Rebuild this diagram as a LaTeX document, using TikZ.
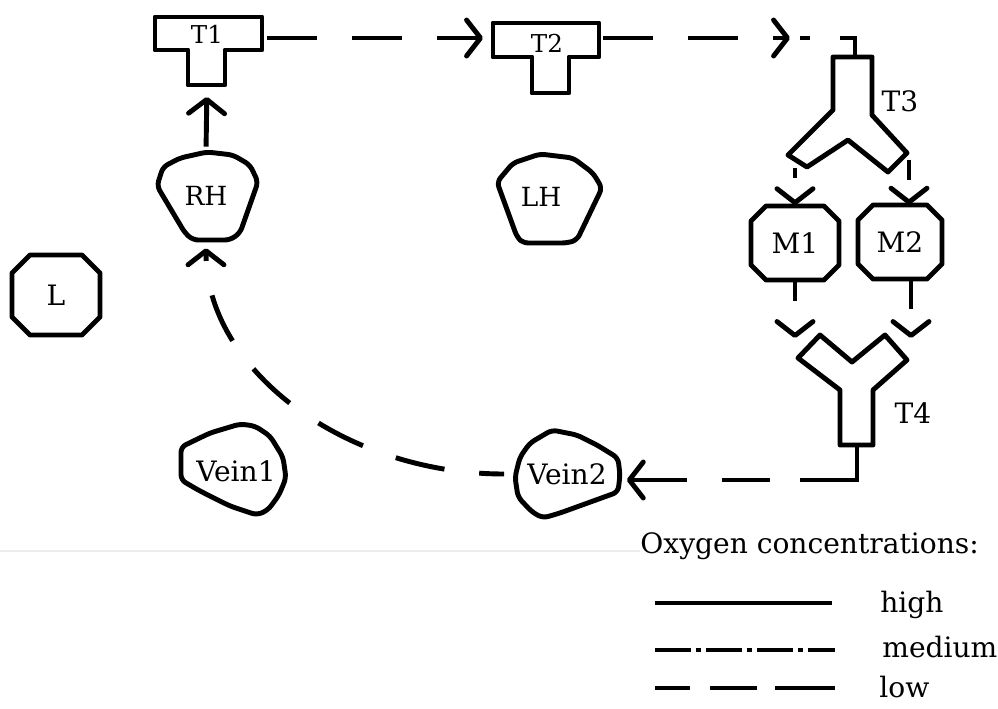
\documentclass[tikz,border=0pt]{standalone}
\usepackage{fontspec}
\setmainfont{DejaVu Serif}
\usetikzlibrary{calc,arrows.meta}
\def\octagon(#1)(#2:#3:#4){\draw[shape line] ($(#1)+(-#2,-#3+#4)$) -- ($(#1)+(-#2,#3-#4)$) -- ($(#1)+(-#2+#4,#3)$) -- ($(#1)+(#2-#4,#3)$) -- ($(#1)+(#2,#3-#4)$) -- ($(#1)+(#2,-#3+#4)$) -- ($(#1)+(#2-#4,-#3)$) -- ($(#1)+(-#2+#4,-#3)$) -- cycle;}
\tikzset{
	shape line/.style={line width=2.8pt, line join=round},
	lbl/.style={font=\fontsize{16}{19}\selectfont, inner sep=0pt},
	mid lbl/.style={font=\fontsize{15}{18}\selectfont, inner sep=0pt},
	small lbl/.style={font=\fontsize{14}{17}\selectfont, inner sep=0pt},
	high/.style={line width=2.8pt},
	medium/.style={line width=2.8pt, dash pattern=on 0.72cm off 0.1cm on 0.1cm off 0.1cm},
	low/.style={line width=2.8pt, dash pattern=on 1cm off 0.7cm},
	flow/.style={-{Straight Barb[length=0.28cm,width=0.72cm,round]}}
}

\begin{document}
\begin{tikzpicture}[x=0.02cm, y=-0.02cm]
	%%%%% START %%%%%
	\useasboundingbox (0,0) rectangle (998,708);
	
	\draw[shape line] (155,17) -- (262,17) -- (262,50) -- (225,50) -- (225,85) -- (188,85) -- (188,50) -- (155,50) -- cycle;
	\node[small lbl] (T1) at (207,34) {T1};
	\coordinate (T1 in) at (207,85);
	\coordinate (T1 out) at (262,38);
	
	\draw[shape line] (493,23) -- (599,23) -- (599,57) -- (569,57) -- (569,93) -- (532,93) -- (532,57) -- (493,57) -- cycle;
	\node[small lbl] (T2) at (547,43) {T2};
	\coordinate (T2 in) at (493,38);
	\coordinate (T2 out) at (599,38);
	
	\draw[shape line] (833,57) -- (872,57) -- (872,115) -- (907,153) -- (888,172) -- (848,140) -- (807,167) -- (788,155) -- (833,110) -- cycle;
	\node[lbl] (T3) at (900,101) {T3};
	\coordinate (T3 mid) at (790,38);
	\coordinate (T3 bend) at (855,38);
	\coordinate (T3 in) at (855,57);
	\coordinate (T3 left) at (795,168);
	\coordinate (T3 right) at (909,160);
	
	\draw[shape line] (798,358) -- (820,335) -- (852,362) -- (885,335) -- (907,360) -- (873,390) -- (873,445) -- (840,445) -- (840,390) -- cycle;
	\node[lbl] (T4) at (913,413) {T4};
	\coordinate (T4 left) at (795,338);
	\coordinate (T4 right) at (911,338);
	\coordinate (T4 out) at (857,445);
	\coordinate (T4 bend) at (857,480);
	
	\node[mid lbl, minimum width=2.04cm, minimum height=1.76cm] (RH) at (206,196) {RH};
	\draw[shape line, rounded corners=3pt] (157,186) -- (163,167) -- (180,158) -- (207,152) -- (233,155) -- (250,165) -- (258,182) -- (240,233) -- (230,240) -- (193,240) -- (185,233) -- cycle;
	
	\node[mid lbl] (LH) at (541,197) {LH};
	\draw[shape line, rounded corners=3pt] (497,182) -- (513,163) -- (540,154) -- (573,158) -- (593,173) -- (602,188) -- (577,240) -- (567,243) -- (523,243) -- (517,237) -- cycle;
	
	\node[lbl, minimum width=1.76cm, minimum height=1.6cm] (L) at (56,295) {L};
	\octagon(L)(44:40:18)
	
	\node[lbl, minimum width=1.78cm, minimum height=1.5cm] (M1) at (795,243) {M1};
	\octagon(M1)(44:37:15)
	
	\node[lbl, minimum width=1.68cm, minimum height=1.48cm] (M2) at (900,242) {M2};
	\octagon(M2)(42:37:15)
	
	\node[lbl] (Vein1) at (236,471) {Vein1};
	\draw[shape line, rounded corners=3pt] (181,447) -- (210,433) -- (240,424) -- (255,426) -- (270,436) -- (283,457) -- (286,478) -- (279,495) -- (268,510) -- (257,515) -- (230,506) -- (200,491) -- (181,480) -- cycle;
	
	\node[lbl, minimum width=2.1cm, minimum height=1.76cm] (Vein2) at (567,474) {Vein2};
	\draw[shape line, rounded corners=3pt] (552,430) -- (530,443) -- (520,457) -- (515,477) -- (518,497) -- (532,512) -- (543,518) -- (560,513) -- (618,492) -- (620,475) -- (618,458) -- (597,445) -- (577,435) -- cycle;
	
	% blood flow
	\draw[high, flow, shorten <=0.1cm, shorten >=0.24cm] (RH.north) -- (T1 in);
	\draw[low, flow, shorten <=0.1cm, shorten >=0.2cm] (T1 out) -- (T2 in);
	\draw[low, flow, shorten <=0.08cm] (T2 out) -- (T3 mid);
	\draw[low, dash pattern=on 0.2cm off 0.6cm on 2cm, shorten <=0.2cm] (T3 mid) -- (T3 bend) -- (T3 in);
	\draw[low, flow, dash phase=0.8cm] (T3 left) -- (T3 left |- M1.north);
	\draw[low, flow, dash phase=0.6cm] (T3 right) -- (T3 right |- M2.north);
	\draw[low, flow, dash phase=0.6cm] (M1.south) -- (T4 left);
	\draw[low, flow, dash phase=0.4cm] (T4 right |- M2.south) -- (T4 right);
	\draw[low, flow, dash pattern=on 1.84cm off 0.6cm on 0.96cm off 0.7cm on 2cm, shorten >=0.14cm] (T4 out) -- (T4 bend) -- (Vein2.east |- T4 bend);
	\draw[low, flow, dash phase=0.5cm, shorten <=0.2cm, shorten >=0.16cm] (Vein2.west) .. controls +(-170,0) and +(0,129) .. (RH.south);
	
	\draw[black!7, line width=1pt] (0,551) -- (640,551);
	
	% legend
	\node[lbl, anchor=base west] (legend) at (640,553) {Oxygen concentrations:};
	\node[lbl, anchor=base west] (high lbl) at (880,612) {high};
	\node[lbl, anchor=base west] (medium lbl) at (882,657) {medium};
	\node[lbl, anchor=base west] (low lbl) at (879,697) {low};
	\coordinate (high a) at (655,603);
	\coordinate (high b) at (832,603);
	\coordinate (medium a) at (655,650);
	\coordinate (medium b) at (835,650);
	\coordinate (low a) at (655,688);
	\coordinate (low b) at (835,688);
	\draw[high] (high a) -- (high b);
	\draw[medium] (medium a) -- (medium b);
	\draw[low, dash pattern=on 0.7cm off 0.4cm on 0.94cm off 0.36cm on 1.2cm] (low a) -- (low b);
	%%%%% END %%%%%
\end{tikzpicture}
\end{document}
